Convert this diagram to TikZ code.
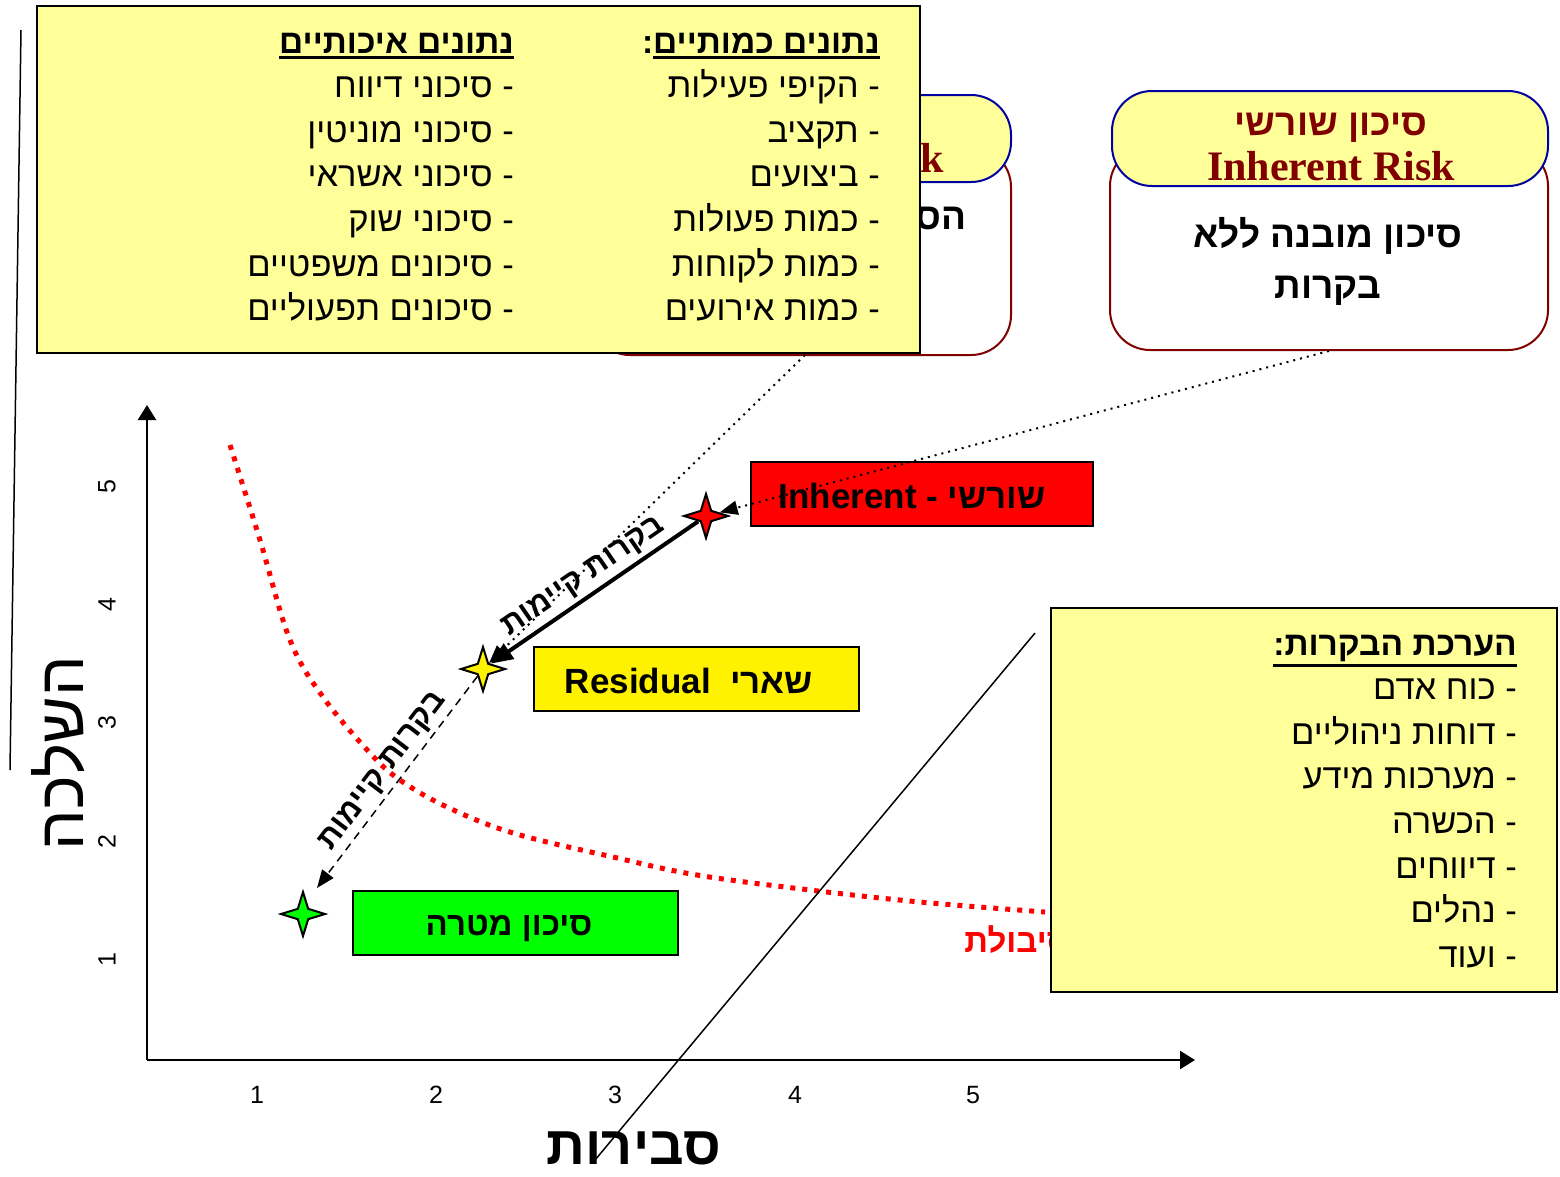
\documentclass[tikz,border=0pt]{standalone}
\usepackage{fontspec}
\setmainfont{Liberation Sans}
\newfontfamily\hebfont[Script=Hebrew]{Liberation Sans}
\newfontfamily\latinserif{Liberation Serif}
\TeXXeTstate=1
\usetikzlibrary{arrows.meta,shapes.geometric,positioning}
\definecolor{paleyellow}{RGB}{255,255,153}
\definecolor{darkred}{RGB}{128,0,0}
\definecolor{frameblue}{RGB}{0,0,160}
% thick underline that keeps the word as one unit inside right-to-left text
\newcommand\thickul[1]{\vtop{\hbox{#1}\kern3pt\hrule height 2.5pt}}
\tikzset{
  notebox/.style={
    draw=black,
    fill=paleyellow,
    line width=2pt,
    inner sep=0pt
  },
  riskbox/.style={
    draw=black,
    line width=2pt,
    inner sep=0pt,
    font=\fontsize{35}{40}\selectfont\bfseries
  },
  cardbody/.style={
    draw=darkred,
    fill=white,
    line width=2pt,
    rounded corners=40pt,
    inner sep=0pt
  },
  cardhead/.style={
    draw=frameblue,
    fill=paleyellow,
    line width=2pt,
    rounded corners=40pt,
    inner sep=0pt
  },
  riskstar/.style={
    star,
    star points=4,
    star point ratio=3,
    draw=black,
    line width=2pt,
    minimum size=44pt,
    inner sep=0pt
  },
  listline/.style={
    anchor=base east,
    inner sep=0pt,
    font=\fontsize{34.5}{40}\selectfont\hebfont
  },
  listhead/.style={
    listline,
    font=\fontsize{33.5}{40}\selectfont\hebfont\bfseries
  }
}

\begin{document}
\begin{tikzpicture}[
  x=1pt, y=-1pt,
  axis/.style={line width=2.5pt, -{Triangle[length=15pt,width=18pt]}},
  tick/.style={inner sep=0pt, font=\fontsize{25}{30}\selectfont},
  tolcurve/.style={red, line width=5pt, dash pattern=on 5pt off 7pt},
  ctrlarrow/.style={line width=4pt, -{Triangle[length=22pt,width=18pt]}},
  ctrldashed/.style={line width=1.5pt, dash pattern=on 8pt off 6pt, -{Triangle[length=18pt,width=14pt]}},
  linkdotted/.style={line width=2pt, dash pattern=on 2pt off 5pt, -{Triangle[length=18pt,width=14pt]}},
  ctrllabel/.style={inner sep=4pt, font=\fontsize{31}{36}\selectfont\hebfont\bfseries},
  cardtext/.style={anchor=base, inner sep=0pt, font=\fontsize{37}{44}\selectfont\hebfont\bfseries}
]
\useasboundingbox (0,0) rectangle (1560,1176);

\draw[line width=1.5pt] (21,30) -- (10,770);

% residual card, mostly hidden
\node[cardbody, minimum width=421, minimum height=208] (resbody) at (800.5,251) {};
\node[cardhead, minimum width=421, minimum height=87] (reshead) at (800.5,138.5) {};
\node[anchor=base east, inner sep=0pt, text=darkred, font=\fontsize{42}{48}\selectfont\latinserif\bfseries] (restitle) at (944,172) {Residual Risk};
\node[cardtext, anchor=base east] (restext) at (967,229) {\beginR הסיכון\endR};

% data box
\node[notebox, minimum width=883, minimum height=347] (databox) at (478.5,179.5) {};
\node[listhead] (quanthead) at (880,53) {\beginR\thickul{\beginR נתונים כמותיים\endR}:\endR};
\foreach \entry [count=\i] in {הקיפי פעילות, תקציב, ביצועים, כמות פעולות, כמות לקוחות, כמות אירועים}
  \node[listline] (quant\i) at (880, 53+44.6*\i) {\beginR - \entry\endR};
\node[listhead] (qualhead) at (514,53) {\beginR\thickul{\beginR נתונים איכותיים\endR}\endR};
\foreach \entry [count=\i] in {סיכוני דיווח, סיכוני מוניטין, סיכוני אשראי, סיכוני שוק, סיכונים משפטיים, סיכונים תפעוליים}
  \node[listline] (qual\i) at (514, 53+44.6*\i) {\beginR - \entry\endR};

% inherent card
\node[cardbody, minimum width=438, minimum height=204] (inhbody) at (1329,248) {};
\node[cardhead, minimum width=436, minimum height=95] (inhhead) at (1330,138.5) {};
\node[cardtext, text=darkred] (inhtitleh) at (1331,135) {\beginR סיכון שורשי\endR};
\node[anchor=base, inner sep=0pt, text=darkred, font=\fontsize{42}{48}\selectfont\latinserif\bfseries] (inhtitle) at (1331,180) {Inherent Risk};
\node[cardtext] (inhtext1) at (1328,247) {\beginR סיכון מובנה ללא\endR};
\node[cardtext] (inhtext2) at (1328,298) {\beginR בקרות\endR};

% axes
\coordinate (origin) at (147,1060);
\coordinate (ytop) at (147,405);
\coordinate (xend) at (1195,1060);
\draw[axis] (origin) -- (ytop);
\draw[axis] (origin) -- (xend);
\foreach \n/\x in {1/257,2/436,3/615,4/795,5/973}
  \node[tick] (xt\n) at (\x,1095) {\n};
\foreach \n/\y in {1/960,2/842,3/723,4/605,5/487}
  \node[tick, rotate=90] (yt\n) at (107,\y) {\n};
\node[rotate=90, inner sep=0pt, font=\fontsize{64}{70}\selectfont\hebfont] (ylabel) at (58,753) {\beginR השלכה\endR};
\node[anchor=base, inner sep=0pt, font=\fontsize{54}{60}\selectfont\hebfont\bfseries] (xlabel) at (634,1164) {\beginR סבירות\endR};

% tolerance curve
\draw[tolcurve] plot[smooth, tension=0.6] coordinates {(230,445) (260,540) (290,640) (323,697) (370,753) (400,780) (447,807) (513,833) (613,857) (697,875) (810,890) (920,902) (1045,912)};
\node[anchor=base east, inner sep=0pt, text=red, font=\fontsize{33}{38}\selectfont\hebfont\bfseries] (tollabel) at (1070,952) {\beginR סיבולת\endR};

% risk levels
\node[riskbox, fill=red, minimum width=342, minimum height=64] (inhbox) at (922,494) {};
\node[inner sep=0pt, font=\fontsize{35}{40}\selectfont\bfseries] (inhname) at (912,496) {Inherent - \hebfont\beginR שורשי\endR};
\node[riskbox, fill=yellow, minimum width=325, minimum height=64] (resbox) at (696.5,679) {};
\node[inner sep=0pt, font=\fontsize{35}{40}\selectfont\bfseries] (resname) at (689,681) {Residual\ \ \hebfont\beginR שארי\endR};
\node[riskbox, fill=green, minimum width=325, minimum height=64] (tgtbox) at (515.5,923) {};
\node[inner sep=0pt, font=\fontsize{33}{40}\selectfont\hebfont\bfseries] (tgtname) at (509,928) {\beginR סיכון מטרה\endR};

\node[riskstar, fill=red] (rs) at (706,516) {};
\node[riskstar, fill=yellow] (ys) at (483,669) {};
\node[riskstar, fill=green] (gs) at (303,914) {};

\draw[ctrlarrow] (rs) -- node[ctrllabel, sloped, above] (ctrl1) {\beginR בקרות קיימות\endR} (ys);
\coordinate (gstip) at (317,888);
\draw[ctrldashed] (ys) -- node[ctrllabel, sloped, above] (ctrl2) {\beginR בקרות קיימות\endR} (gstip);

\coordinate (resfoot) at (805,355);
\draw[linkdotted] (resfoot) -- (ys);
\draw[linkdotted] (inhbody.south) -- (rs);

% control evaluation box
\node[notebox, minimum width=506, minimum height=384] (evalbox) at (1304,800) {};
\node[listhead] (evalhead) at (1517,655) {\beginR\thickul{\beginR הערכת הבקרות:\endR}\endR};
\foreach \entry [count=\i] in {כוח אדם, דוחות ניהוליים, מערכות מידע, הכשרה, דיווחים, נהלים, ועוד}
  \node[listline] (eval\i) at (1517, 655+44.6*\i) {\beginR - \entry\endR};

\draw[line width=1.5pt] (1035,633) -- (595,1160);
\end{tikzpicture}
\end{document}
